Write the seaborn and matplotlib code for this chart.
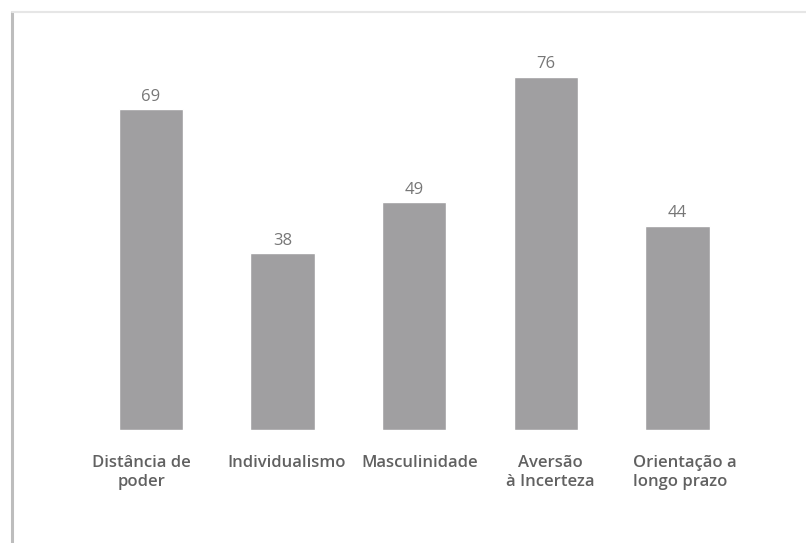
import matplotlib
matplotlib.use("Agg")
import matplotlib.pyplot as plt
from matplotlib.lines import Line2D
import matplotlib.transforms as mtransforms
import seaborn as sns
import pandas as pd

categories = ["Distância de\npoder", "Individualismo", "Masculinidade",
              "Aversão\nà Incerteza", "Orientação a\nlongo prazo"]
values = [69, 38, 49, 76, 44]

sns.set_theme(style="white")
plt.rcParams["font.family"] = ["Open Sans", "DejaVu Sans"]

df = pd.DataFrame({"dimensao": categories, "pontuacao": values})

fig = plt.figure(figsize=(8.06, 5.43), dpi=100)
ax = fig.add_axes([0.0893, 0.2081, 0.8493, 0.6844])

sns.barplot(data=df, x="dimensao", y="pontuacao", color="#a09fa1",
            saturation=1, width=0.49, ax=ax)

ax.set_xlim(-0.6, 4.6)
ax.set_ylim(0, 80)
ax.set_xlabel("")
ax.set_ylabel("")
ax.set_yticks([])
for s in ax.spines.values():
    s.set_visible(False)
ax.tick_params(axis="x", length=0, pad=18)

# small horizontal nudges (points) and line alignment of each category label
nudges = [-7, 3, 4, 3, 5]
aligns = ["center", "center", "center", "center", "left"]
for lbl, dx, al in zip(ax.get_xticklabels(), nudges, aligns):
    lbl.set_fontsize(12)
    lbl.set_color("#616161")
    lbl.set_fontweight("semibold")
    lbl.set_linespacing(1.25)
    lbl.set_multialignment(al)
    lbl.set_transform(lbl.get_transform() +
                      mtransforms.ScaledTranslation(dx / 72, 0, fig.dpi_scale_trans))

for i, v in enumerate(values):
    ax.text(i, v + 1.0, f"{v}", ha="center", va="bottom",
            fontsize=12, color="#777777")

# page frame
fig.add_artist(Line2D([12 / 806, 12 / 806], [0, 1 - 12 / 543],
                      transform=fig.transFigure, color="#bdbdbd", lw=2.2))
fig.add_artist(Line2D([12 / 806, 1], [1 - 12 / 543, 1 - 12 / 543],
                      transform=fig.transFigure, color="#e6e6e6", lw=1.5))

fig.savefig("out.png", dpi=100)
